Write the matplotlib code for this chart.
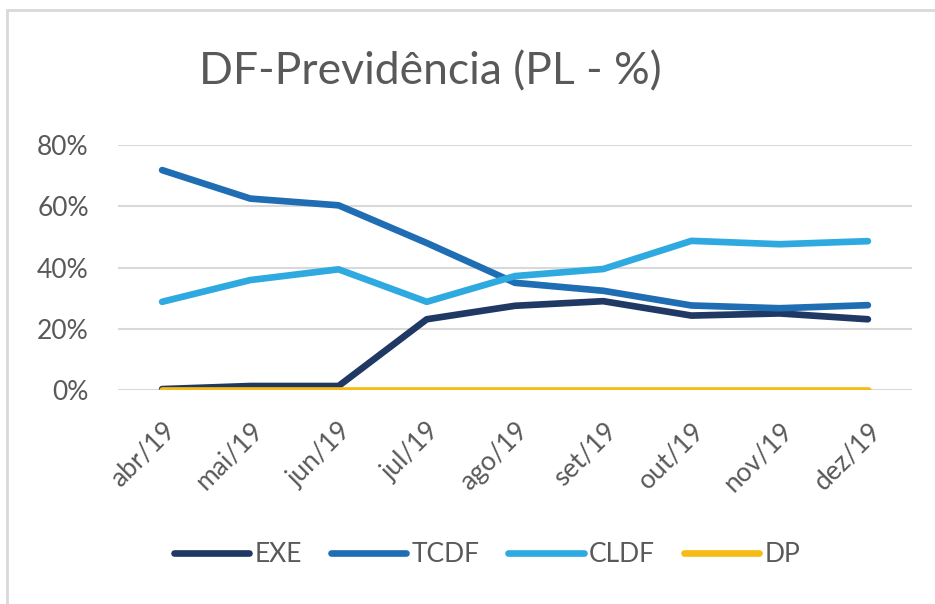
import matplotlib
matplotlib.use("Agg")
import matplotlib.pyplot as plt
from matplotlib.patches import Rectangle
from matplotlib.ticker import FuncFormatter

# dados
meses = ['abr/19', 'mai/19', 'jun/19', 'jul/19', 'ago/19', 'set/19', 'out/19', 'nov/19', 'dez/19']
exe = [0.3, 1.3, 1.3, 23.1, 27.5, 29.0, 24.3, 25.0, 23.1]
tcdf = [71.8, 62.5, 60.3, 48.0, 35.0, 32.4, 27.6, 26.7, 27.7]
cldf = [28.8, 35.9, 39.4, 28.8, 37.2, 39.5, 48.7, 47.6, 48.6]
dp = [0, 0, 0, 0, 0, 0, 0, 0, 0]

series = [('EXE', exe, '#1f3864'), ('TCDF', tcdf, '#1f6db3'),
          ('CLDF', cldf, '#2eaae0'), ('DP', dp, '#f7bb16')]

plt.rcParams['font.family'] = ['Lato', 'DejaVu Sans']
cor_texto = '#595959'

fig = plt.figure(figsize=(9.35, 6.04), dpi=100)
# borda da área do gráfico
fig.patches.append(Rectangle((7 / 935, -0.01), 1.0, 1 - 10 / 604 + 0.01,
                             transform=fig.transFigure, fill=False,
                             edgecolor='#d9d9d9', linewidth=2))

ax = fig.add_axes([118 / 935, (604 - 390) / 604, (912 - 118) / 935, (390 - 145) / 604])

x = list(range(len(meses)))
for nome, vals, cor in series:
    ax.plot(x, vals, color=cor, linewidth=4.8, solid_capstyle='round',
            solid_joinstyle='round', label=nome, zorder=3)

ax.set_xlim(-0.5, len(meses) - 0.5)
ax.set_ylim(0, 80)
ax.set_yticks([0, 20, 40, 60, 80])
ax.yaxis.set_major_formatter(FuncFormatter(lambda v, p: f'{v:.0f}%'))
ax.set_xticks(x)
ax.set_xticklabels(meses, rotation=45, ha='right', rotation_mode='anchor')
ax.grid(axis='y', color='#d9d9d9', linewidth=1.5, zorder=0)
for s in ax.spines.values():
    s.set_visible(False)
ax.tick_params(length=0, labelsize=19, colors=cor_texto)
ax.tick_params(axis='y', pad=21)
ax.tick_params(axis='x', pad=20)

fig.text(430 / 935, 1 - 72 / 604, 'DF-Previdência (PL - %)', ha='center', va='center',
         fontsize=32, color=cor_texto)

leg = fig.legend(loc='center', bbox_to_anchor=(487 / 935, 1 - 555 / 604), ncol=4,
                 frameon=False, fontsize=19, handlelength=2.85, handletextpad=0.2,
                 columnspacing=1.1, labelcolor=cor_texto)
for h in leg.get_lines():
    h.set_linewidth(4.8)
    h.set_solid_capstyle('round')

fig.savefig('out.png', dpi=100)
